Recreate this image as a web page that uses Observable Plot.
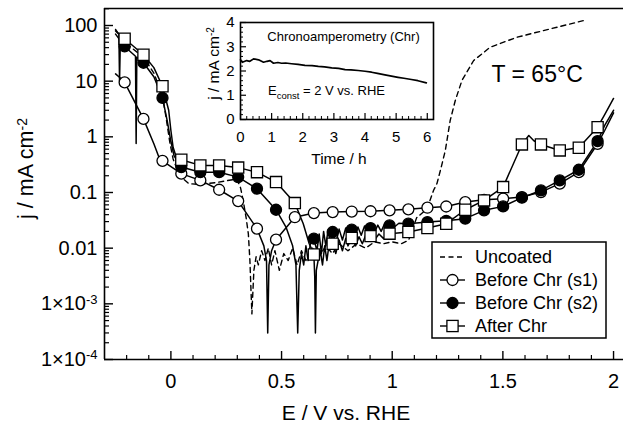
<!DOCTYPE html>
<html><head><meta charset="utf-8">
<script src="https://cdn.jsdelivr.net/npm/d3@7"></script>
<script src="https://cdn.jsdelivr.net/npm/@observablehq/plot@0.6"></script>
<style>
body{margin:0;background:#fff;}
#wrap{position:relative;width:623px;height:425px;font-family:"Liberation Sans",Arial,sans-serif;}
#wrap svg{position:absolute;overflow:visible;}
</style></head><body><div id="wrap"></div>
<script>
// ---------- main chart data ----------
const markerE = [-0.209, -0.124, -0.038, 0.047, 0.133, 0.218, 0.304, 0.389, 0.475, 0.560, 0.646, 0.731, 0.817, 0.902, 0.988, 1.073, 1.159, 1.244, 1.330, 1.415, 1.501, 1.586, 1.672, 1.757, 1.843, 1.928];
const s1MarkerJ = [9.5, 2.1, 0.37, 0.218, 0.165, 0.112, 0.070, 0.0224, 0.0142, 0.036, 0.0427, 0.0445, 0.0455, 0.046, 0.0478, 0.0498, 0.0533, 0.056, 0.0673, 0.074, 0.0774, 0.0827, 0.1016, 0.144, 0.232, 0.75];
const s2MarkerJ = [42, 21.4, 5.0, 0.286, 0.232, 0.232, 0.189, 0.117, 0.049, null, 0.0148, 0.0195, 0.0215, 0.023, 0.0256, 0.0275, 0.0294, 0.031, 0.0339, 0.0478, 0.0563, 0.0807, 0.109, 0.165, 0.256, 0.84];
const afterMarkerJ = [57.7, 29.8, 8.1, 0.388, 0.307, 0.307, 0.28, 0.232, 0.154, 0.0646, 0.0077, 0.012, 0.0152, 0.0165, 0.0182, 0.0195, 0.023, 0.0275, 0.049, 0.072, 0.125, 0.73, 0.73, 0.57, 0.637, 1.49];

const s1ExtraE = [-0.25, -0.23, -0.077, -0.054, 0.42, 0.432, 0.4375, 0.443, 0.455, 1.96, 2.0];
const s1ExtraJ = [13.5, 11.5, 0.75, 0.43, 0.011, 0.006, 0.0003, 0.005, 0.009, 1.3, 2.7];

const s2ExtraE = [-0.25, -0.235, -0.16, -0.157, -0.154, -0.077, -0.017, -0.001, 0.014, 0.036, 0.52, 0.55, 0.565, 0.573, 0.58, 0.59, 0.60, 0.61, 0.62, 0.63, 0.66, 0.67, 0.68, 0.69, 0.70, 0.71, 0.72, 0.745, 0.76, 0.775, 0.79, 0.80, 0.83, 0.845, 0.86, 0.875, 0.89, 0.92, 0.935, 0.95, 0.965, 1.01, 1.03, 1.96, 2.0];
const s2ExtraJ = [70, 58, 28, 0.76, 27, 12, 1.97, 0.86, 0.46, 0.33, 0.024, 0.011, 0.005, 0.0003, 0.004, 0.008, 0.005, 0.011, 0.006, 0.012, 0.009, 0.018, 0.008, 0.02, 0.011, 0.021, 0.013, 0.012, 0.022, 0.014, 0.023, 0.015, 0.016, 0.024, 0.017, 0.025, 0.018, 0.019, 0.026, 0.02, 0.027, 0.024, 0.028, 1.6, 3.0];

const afterExtraE = [-0.25, -0.235, -0.232, -0.228, -0.077, -0.01, 0.0, 0.01, 0.025, 0.598, 0.625, 0.64, 0.650, 0.653, 0.657, 0.665, 0.675, 0.685, 0.695, 0.705, 0.715, 0.745, 0.76, 0.775, 0.79, 0.80, 0.835, 0.85, 0.865, 0.88, 0.92, 0.94, 0.96, 1.617, 1.64, 1.96, 2.0];
const afterExtraJ = [80, 70, 10, 65, 17.5, 3.0, 1.3, 0.65, 0.42, 0.0275, 0.012, 0.009, 0.003, 0.0003, 0.004, 0.006, 0.009, 0.005, 0.011, 0.006, 0.012, 0.008, 0.014, 0.009, 0.015, 0.011, 0.011, 0.016, 0.012, 0.017, 0.014, 0.018, 0.015, 1.06, 0.85, 2.5, 4.9];

const uncoatedE = [-0.25, -0.21, -0.124, -0.077, -0.038, -0.02, -0.005, 0.01, 0.03, 0.06, 0.08, 0.12, 0.16, 0.2, 0.24, 0.28, 0.3, 0.315, 0.327, 0.34, 0.35, 0.357, 0.362, 0.366, 0.37, 0.375, 0.385, 0.395, 0.41, 0.425, 0.44, 0.455, 0.47, 0.49, 0.51, 0.53, 0.55, 0.57, 0.59, 0.61, 0.64, 0.67, 0.70, 0.73, 0.76, 0.80, 0.84, 0.88, 0.92, 0.96, 1.0, 1.04, 1.074, 1.11, 1.157, 1.187, 1.202, 1.22, 1.24, 1.262, 1.285, 1.315, 1.368, 1.443, 1.564, 1.715, 1.866];
const uncoatedJ = [85, 50, 27, 14, 5.5, 2, 0.8, 0.4, 0.25, 0.17, 0.145, 0.14, 0.145, 0.15, 0.16, 0.17, 0.17, 0.12, 0.07, 0.035, 0.018, 0.006, 0.0017, 0.00066, 0.0015, 0.004, 0.007, 0.005, 0.009, 0.006, 0.01, 0.005, 0.009, 0.004, 0.008, 0.006, 0.01, 0.005, 0.009, 0.006, 0.01, 0.007, 0.011, 0.008, 0.012, 0.009, 0.012, 0.01, 0.013, 0.012, 0.013, 0.012, 0.0138, 0.035, 0.051, 0.11, 0.144, 0.27, 0.57, 1.97, 4.5, 10.3, 23.5, 40.8, 61.6, 87, 123];

const xTickValues = [0, 0.5, 1, 1.5, 2];
const xTickLabels = ["0", "0.5", "1", "1.5", "2"];
const yTickValues = [1e-4, 1e-3, 1e-2, 0.1, 1, 10, 100];
const yTickLabels = ["1×10^-4", "1×10^-3", "0.01", "0.1", "1", "10", "100"];
const legendLabels = ["Uncoated", "Before Chr (s1)", "Before Chr (s2)", "After Chr"];

// ---------- inset data ----------
const chrT = [0, 0.06, 0.2, 0.3, 0.42, 0.58, 0.74, 0.85, 0.95, 1.06, 1.2, 1.32, 1.45, 1.64, 1.85, 2.07, 2.3, 2.5, 2.7, 2.93, 3.15, 3.36, 3.55, 3.78, 4.0, 4.21, 4.4, 4.64, 4.85, 5.06, 5.25, 5.49, 5.7, 5.97];
const chrJ = [2.46, 2.36, 2.43, 2.40, 2.50, 2.46, 2.36, 2.40, 2.43, 2.32, 2.35, 2.32, 2.33, 2.30, 2.27, 2.23, 2.22, 2.19, 2.17, 2.13, 2.11, 2.06, 2.05, 2.02, 1.99, 1.95, 1.90, 1.84, 1.79, 1.74, 1.70, 1.65, 1.60, 1.51];
const chrXTicks = [0, 1, 2, 3, 4, 5, 6];
const chrYTicks = [0, 1, 2, 3, 4];

// ---------- build tables ----------
function buildLine(mJ, eE, eJ) {
  const pts = [];
  markerE.forEach((e, i) => { if (mJ[i] != null) pts.push({E: e, j: mJ[i]}); });
  eE.forEach((e, i) => pts.push({E: e, j: eJ[i]}));
  return pts.sort((a, b) => a.E - b.E);
}
function markers(mJ) {
  return markerE.map((e, i) => ({E: e, j: mJ[i]})).filter(d => d.j != null);
}
const s1Line = buildLine(s1MarkerJ, s1ExtraE, s1ExtraJ);
const s2Line = buildLine(s2MarkerJ, s2ExtraE, s2ExtraJ);
const afterLine = buildLine(afterMarkerJ, afterExtraE, afterExtraJ);
const uncoated = uncoatedE.map((e, i) => ({E: e, j: uncoatedJ[i]}));
const chr = chrT.map((t, i) => ({t, j: chrJ[i]}));

const xLab = new Map(xTickValues.map((v, i) => [v, xTickLabels[i]]));
const yLab = new Map(yTickValues.map((v, i) => [v, yTickLabels[i]]));

const W = 623, H = 425, mL = 104, mR = 0, mT = 8, mB = 66;
const innerW = W - mL - mR, innerH = H - mT - mB;
const xDomain = [-0.3, 2.045];
const yDomain = [1e-4, 202];

const xMinor = d3.range(-2, 21).map(k => k / 10).filter(v => !xTickValues.some(t => Math.abs(t - v) < 1e-9));
const yMinor = [];
for (let p = -4; p <= 2; p++) for (let m = 2; m <= 9; m++) { const v = m * Math.pow(10, p); if (v < yDomain[1]) yMinor.push(v); }

const lw = 1.5;
const main = Plot.plot({
  width: W, height: H, marginLeft: mL, marginRight: mR, marginTop: mT, marginBottom: mB,
  style: {fontFamily: "'Liberation Sans', Arial, sans-serif", fontSize: "20px", color: "#000", background: "transparent", overflow: "visible"},
  x: {domain: xDomain},
  y: {type: "log", domain: yDomain},
  marks: [
    Plot.axisX(xTickValues, {tickSize: 0, tickPadding: 14, label: null, tickFormat: d => xLab.get(d), fontSize: 20}),
    Plot.axisY(yTickValues, {tickSize: 0, tickPadding: 7, label: null, tickFormat: d => yLab.get(d), fontSize: 20}),
    Plot.tickX(xMinor, {x: d => d, insetTop: innerH - 4, strokeWidth: 1.2}),
    Plot.tickX(xTickValues, {x: d => d, insetTop: innerH - 8, strokeWidth: 1.4}),
    Plot.tickY(yMinor, {y: d => d, insetRight: innerW - 5, strokeWidth: 1.2}),
    Plot.tickY(yTickValues, {y: d => d, insetRight: innerW - 9, strokeWidth: 1.4}),
    Plot.line(uncoated, {x: "E", y: "j", stroke: "#000", strokeWidth: 1.4, strokeDasharray: "5,4"}),
    Plot.line(s1Line, {x: "E", y: "j", stroke: "#000", strokeWidth: lw}),
    Plot.line(s2Line, {x: "E", y: "j", stroke: "#000", strokeWidth: lw}),
    Plot.line(afterLine, {x: "E", y: "j", stroke: "#000", strokeWidth: lw}),
    Plot.dot(markers(s1MarkerJ), {x: "E", y: "j", r: 5.5, fill: "#fff", stroke: "#000", strokeWidth: 1.3}),
    Plot.dot(markers(s2MarkerJ), {x: "E", y: "j", r: 5.5, fill: "#000", stroke: "#000", strokeWidth: 1.3}),
    Plot.dot(markers(afterMarkerJ), {x: "E", y: "j", r: 6.3, symbol: "square", fill: "#fff", stroke: "#000", strokeWidth: 1.3}),
    Plot.ruleX([xDomain[0]], {stroke: "#000", strokeWidth: 1.6}),
    Plot.ruleY([yDomain[0]], {stroke: "#000", strokeWidth: 1.6}),
    Plot.ruleY([yDomain[1]], {stroke: "#000", strokeWidth: 1.6})
  ]
});
main.style.left = "0px"; main.style.top = "0px";
// superscripts in tick labels
d3.select(main).selectAll("text").each(function () {
  const t = this.textContent; const m = t.match(/^(.*)\^(.*)$/);
  if (m) {
    const el = d3.select(this); el.text(null);
    el.append("tspan").text(m[1]);
    el.append("tspan").attr("dy", "-0.5em").attr("font-size", "0.65em").text(m[2]);
  }
});

// ---------- inset ----------
const iW = 270, iH = 175, iL = 70, iR = 7, iT = 22, iB = 56;
const chrXMinor = d3.range(1, 31).map(k => k / 5).filter(v => Math.abs(v - Math.round(v)) > 1e-9);
const chrYMinor = d3.range(1, 20).map(k => k / 5).filter(v => Math.abs(v - Math.round(v)) > 1e-9);
const inset = Plot.plot({
  width: iW, height: iH, marginLeft: iL, marginRight: iR, marginTop: iT, marginBottom: iB,
  style: {fontFamily: "'Liberation Sans', Arial, sans-serif", fontSize: "15px", color: "#000", background: "transparent", overflow: "visible"},
  x: {domain: [0, 6.2]},
  y: {domain: [0, 4]},
  marks: [
    Plot.axisX(chrXTicks, {tickSize: 0, tickPadding: 12, label: null, fontSize: 15}),
    Plot.axisY(chrYTicks, {tickSize: 0, tickPadding: 6, label: null, fontSize: 15}),
    Plot.tickX(chrXMinor, {x: d => d, insetTop: iH - iT - iB - 3, strokeWidth: 1}),
    Plot.tickX(chrXTicks, {x: d => d, insetTop: iH - iT - iB - 6, strokeWidth: 1.2}),
    Plot.tickY(chrYMinor, {y: d => d, insetRight: iW - iL - iR - 3, strokeWidth: 1}),
    Plot.tickY(chrYTicks, {y: d => d, insetRight: iW - iL - iR - 6, strokeWidth: 1.2}),
    Plot.line(chr, {x: "t", y: "j", stroke: "#000", strokeWidth: 1.7}),
    Plot.frame({stroke: "#000", strokeWidth: 1.6})
  ]
});
inset.style.left = "170px"; inset.style.top = "0px";

// ---------- overlay: titles, annotations, legend ----------
const ov = d3.create("svg").attr("width", W).attr("height", H)
  .style("left", "0px").style("top", "0px")
  .attr("font-family", "'Liberation Sans', Arial, sans-serif");

ov.append("text").attr("x", 346).attr("y", 419.5).attr("text-anchor", "middle").attr("font-size", 21).text("E / V vs. RHE");
const yt = ov.append("text").attr("transform", "translate(33,168.5) rotate(-90)").attr("text-anchor", "middle").attr("font-size", 21.5);
yt.append("tspan").text("j / mA cm");
yt.append("tspan").attr("dy", "-0.45em").attr("font-size", "0.65em").text("-2");

ov.append("text").attr("x", 491.5).attr("y", 81.5).attr("font-size", 23).text("T = 65°C");

// inset annotations
const iyt = ov.append("text").attr("transform", "translate(219,63.5) rotate(-90)").attr("text-anchor", "middle").attr("font-size", 15.5);
iyt.append("tspan").text("j / mA cm");
iyt.append("tspan").attr("dy", "-0.45em").attr("font-size", "0.65em").text("-2");
ov.append("text").attr("x", 339).attr("y", 164).attr("text-anchor", "middle").attr("font-size", 15.5).text("Time / h");
ov.append("text").attr("x", 343.5).attr("y", 41).attr("text-anchor", "middle").attr("font-size", 13).text("Chronoamperometry (Chr)");
const ec = ov.append("text").attr("x", 268).attr("y", 95).attr("font-size", 13);
ec.append("tspan").text("E");
ec.append("tspan").attr("dy", 3.5).attr("font-size", 9.5).text("const");
ec.append("tspan").attr("dy", -3.5).text(" = 2 V vs. RHE");

// legend
const lg = ov.append("g");
lg.append("rect").attr("x", 432).attr("y", 242).attr("width", 174).attr("height", 96)
  .attr("fill", "#fff").attr("stroke", "#000").attr("stroke-width", 1.5);
legendLabels.forEach((lab, i) => {
  const cy = 257 + i * 23;
  const line = lg.append("line").attr("x1", 440).attr("x2", 465).attr("y1", cy).attr("y2", cy)
    .attr("stroke", "#000").attr("stroke-width", 1.4);
  if (i === 0) line.attr("stroke-dasharray", "5,3.5");
  if (i === 1 || i === 2) lg.append("circle").attr("cx", 452.5).attr("cy", cy).attr("r", 5.5)
    .attr("fill", i === 1 ? "#fff" : "#000").attr("stroke", "#000").attr("stroke-width", 1.3);
  if (i === 3) lg.append("rect").attr("x", 452.5 - 5.6).attr("y", cy - 5.6).attr("width", 11.2).attr("height", 11.2)
    .attr("fill", "#fff").attr("stroke", "#000").attr("stroke-width", 1.3);
  lg.append("text").attr("x", 475).attr("y", cy + 6.3).attr("font-size", 18).text(lab);
});

const wrap = document.getElementById("wrap");
wrap.appendChild(main);
wrap.appendChild(inset);
wrap.appendChild(ov.node());
</script>
</body></html>
